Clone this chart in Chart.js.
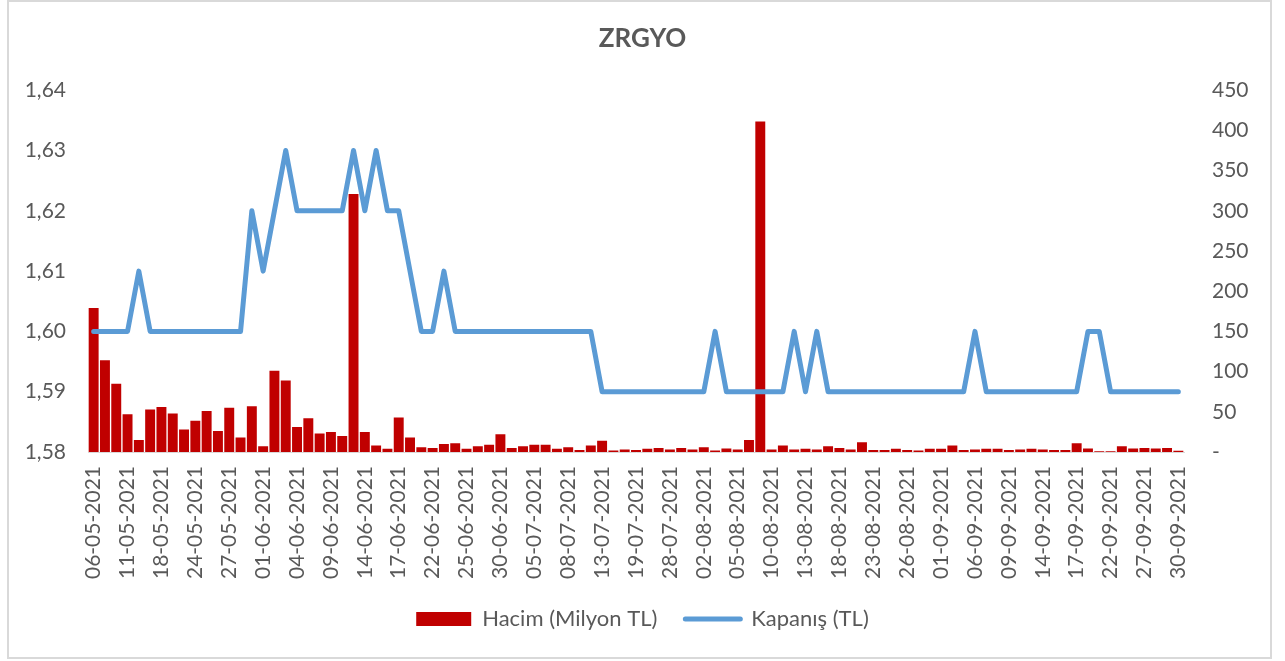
<!DOCTYPE html>
<html>
<head>
<meta charset="utf-8">
<title>ZRGYO</title>
<script src="https://cdn.jsdelivr.net/npm/chart.js@4.4.0/dist/chart.umd.min.js"></script>
<style>
    html, body { margin: 0; padding: 0; background: #ffffff; }
    #frame {
        position: absolute; left: 7px; top: 0px;
        width: 1265px; height: 659px;
        box-sizing: border-box;
        border: 2px solid #d9d9d9;
    }
    #wrap { position: absolute; left: 0; top: 0; width: 1285px; height: 661px; }
</style>
</head>
<body>
<div id="frame"></div>
<div id="wrap"><canvas id="zrgyoChart"></canvas></div>
<script>

// ==========================
// VERİ
// ==========================

const tarihler = [
    "06-05-2021", "07-05-2021", "10-05-2021", "11-05-2021", "12-05-2021", "17-05-2021",
    "18-05-2021", "20-05-2021", "21-05-2021", "24-05-2021", "25-05-2021", "26-05-2021",
    "27-05-2021", "28-05-2021", "31-05-2021", "01-06-2021", "02-06-2021", "03-06-2021",
    "04-06-2021", "07-06-2021", "08-06-2021", "09-06-2021", "10-06-2021", "11-06-2021",
    "14-06-2021", "15-06-2021", "16-06-2021", "17-06-2021", "18-06-2021", "21-06-2021",
    "22-06-2021", "23-06-2021", "24-06-2021", "25-06-2021", "28-06-2021", "29-06-2021",
    "30-06-2021", "01-07-2021", "02-07-2021", "05-07-2021", "06-07-2021", "07-07-2021",
    "08-07-2021", "09-07-2021", "12-07-2021", "13-07-2021", "14-07-2021", "16-07-2021",
    "19-07-2021", "26-07-2021", "27-07-2021", "28-07-2021", "29-07-2021", "30-07-2021",
    "02-08-2021", "03-08-2021", "04-08-2021", "05-08-2021", "06-08-2021", "09-08-2021",
    "10-08-2021", "11-08-2021", "12-08-2021", "13-08-2021", "16-08-2021", "17-08-2021",
    "18-08-2021", "19-08-2021", "20-08-2021", "23-08-2021", "24-08-2021", "25-08-2021",
    "26-08-2021", "27-08-2021", "31-08-2021", "01-09-2021", "02-09-2021", "03-09-2021",
    "06-09-2021", "07-09-2021", "08-09-2021", "09-09-2021", "10-09-2021", "13-09-2021",
    "14-09-2021", "15-09-2021", "16-09-2021", "17-09-2021", "20-09-2021", "21-09-2021",
    "22-09-2021", "23-09-2021", "24-09-2021", "27-09-2021", "28-09-2021", "29-09-2021",
    "30-09-2021"
];

// Hacim (Milyon TL)
const hacim = [
    179, 114, 85, 47, 15, 53, 56, 48, 28, 39, 51, 26,
    55, 18, 57, 7, 101, 89, 31, 42, 23, 25, 20, 321,
    25, 8, 4, 43, 18, 6, 5, 10, 11, 4, 7, 9,
    22, 5, 7, 9, 9, 4, 6, 2.5, 8, 14, 2, 3,
    2.5, 4, 5, 3, 5, 3, 6, 2, 4.5, 3, 15, 411,
    3, 8, 3, 4, 3, 7, 5, 3, 12, 2.5, 2.5, 4,
    2.5, 2, 4, 4, 8, 2.5, 3, 4, 4, 2.5, 3, 4,
    3, 2.5, 2.5, 11, 4.5, 1, 1, 7, 4.5, 5, 4.5, 5,
    1.5
];

// Kapanış (TL)
const kapanis = [
    1.60, 1.60, 1.60, 1.60, 1.61, 1.60, 1.60, 1.60, 1.60, 1.60, 1.60, 1.60,
    1.60, 1.60, 1.62, 1.61, 1.62, 1.63, 1.62, 1.62, 1.62, 1.62, 1.62, 1.63,
    1.62, 1.63, 1.62, 1.62, 1.61, 1.60, 1.60, 1.61, 1.60, 1.60, 1.60, 1.60,
    1.60, 1.60, 1.60, 1.60, 1.60, 1.60, 1.60, 1.60, 1.60, 1.59, 1.59, 1.59,
    1.59, 1.59, 1.59, 1.59, 1.59, 1.59, 1.59, 1.60, 1.59, 1.59, 1.59, 1.59,
    1.59, 1.59, 1.60, 1.59, 1.60, 1.59, 1.59, 1.59, 1.59, 1.59, 1.59, 1.59,
    1.59, 1.59, 1.59, 1.59, 1.59, 1.59, 1.60, 1.59, 1.59, 1.59, 1.59, 1.59,
    1.59, 1.59, 1.59, 1.59, 1.60, 1.60, 1.59, 1.59, 1.59, 1.59, 1.59, 1.59,
    1.59
];

const solEksen = { min: 1.58, max: 1.64, adim: 0.01 };
const sagEksen = { min: 0, max: 450, adim: 50 };

const yaziRengi = "#595959";

Chart.defaults.font.family = "Lato";
Chart.defaults.color = yaziRengi;

// ==========================
// GRAFİK
// ==========================

const canvas = document.getElementById("zrgyoChart");

new Chart(canvas, {

    type: "bar",

    data: {

        labels: tarihler,

        datasets: [

            {
                type: "bar",
                label: "Hacim (Milyon TL)",
                data: hacim,
                yAxisID: "ySag",
                backgroundColor: "#c00000",
                borderWidth: 0,
                barPercentage: 0.88,
                categoryPercentage: 1,
                order: 2
            },

            {
                type: "line",
                label: "Kapanış (TL)",
                data: kapanis,
                yAxisID: "ySol",
                borderColor: "#5b9bd5",
                backgroundColor: "#5b9bd5",
                borderWidth: 5,
                borderCapStyle: "round",
                borderJoinStyle: "round",
                pointRadius: 0,
                tension: 0,
                order: 1
            }

        ]

    },

    options: {

        responsive: true,
        maintainAspectRatio: false,
        animation: false,

        layout: {
            padding: { left: 0, right: 0, top: 0, bottom: 21 }
        },

        plugins: {

            title: {
                display: true,
                text: "ZRGYO",
                color: yaziRengi,
                font: { size: 26, weight: "bold" },
                padding: { top: 23, bottom: 36 }
            },

            legend: {
                position: "bottom",
                labels: {
                    usePointStyle: true,
                    pointStyleWidth: 55,
                    boxHeight: 14,
                    padding: 28,
                    color: yaziRengi,
                    font: { size: 22 },
                    generateLabels: chart => chart.data.datasets.map((ds, i) => ({
                        text: ds.label,
                        fillStyle: ds.backgroundColor,
                        strokeStyle: ds.type === "line" ? ds.borderColor : ds.backgroundColor,
                        lineWidth: ds.type === "line" ? 5 : 0,
                        lineCap: "round",
                        pointStyle: ds.type === "line" ? "line" : "rect",
                        fontColor: yaziRengi,
                        hidden: false,
                        datasetIndex: i
                    }))
                }
            },

            tooltip: { enabled: false }

        },

        scales: {

            x: {
                grid: { display: false, drawTicks: false },
                border: { display: true, color: "#d9d9d9", width: 1 },
                ticks: {
                    autoSkip: false,
                    minRotation: 90,
                    maxRotation: 90,
                    padding: 14,
                    font: { size: 21 },
                    callback: (v, i) => (i % 3 === 0 ? tarihler[i] : "")
                },
                afterFit: scale => { scale.height = 128; }
            },

            ySol: {
                position: "left",
                min: solEksen.min,
                max: solEksen.max,
                grid: { display: false, drawTicks: false },
                border: { display: false },
                ticks: {
                    stepSize: solEksen.adim,
                    padding: 22,
                    font: { size: 21 },
                    callback: v => Number(v).toFixed(2).replace(".", ",")
                },
                afterFit: scale => { scale.width = 88; }
            },

            ySag: {
                position: "right",
                min: sagEksen.min,
                max: sagEksen.max,
                grid: { display: false, drawTicks: false },
                border: { display: false },
                ticks: {
                    stepSize: sagEksen.adim,
                    padding: 28,
                    font: { size: 21 },
                    callback: v => (v === 0 ? "-" : v)
                },
                afterFit: scale => { scale.width = 101; }
            }

        }

    }

});

</script>
</body>
</html>
